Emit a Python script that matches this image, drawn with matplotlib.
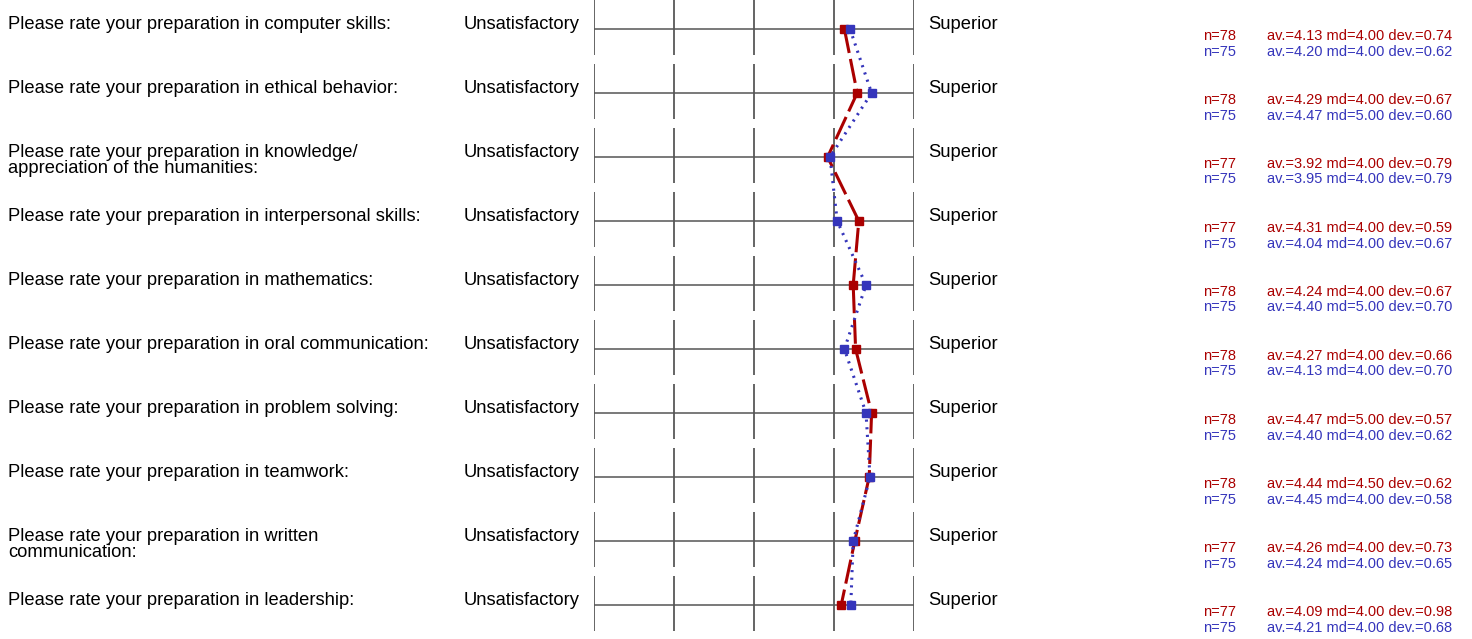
import numpy as np
import matplotlib.pyplot as plt

plt.rcParams['font.family'] = ['Liberation Sans', 'DejaVu Sans']

questions = [
    "Please rate your preparation in computer skills:",
    "Please rate your preparation in ethical behavior:",
    "Please rate your preparation in knowledge/\nappreciation of the humanities:",
    "Please rate your preparation in interpersonal skills:",
    "Please rate your preparation in mathematics:",
    "Please rate your preparation in oral communication:",
    "Please rate your preparation in problem solving:",
    "Please rate your preparation in teamwork:",
    "Please rate your preparation in written\ncommunication:",
    "Please rate your preparation in leadership:",
]
left_label = "Unsatisfactory"
right_label = "Superior"

# series 1 (red)
n_red = [78, 78, 77, 77, 78, 78, 78, 78, 77, 77]
av_red = [4.13, 4.29, 3.92, 4.31, 4.24, 4.27, 4.47, 4.44, 4.26, 4.09]
md_red = [4.00, 4.00, 4.00, 4.00, 4.00, 4.00, 5.00, 4.50, 4.00, 4.00]
dev_red = [0.74, 0.67, 0.79, 0.59, 0.67, 0.66, 0.57, 0.62, 0.73, 0.98]

# series 2 (blue)
n_blue = [75, 75, 75, 75, 75, 75, 75, 75, 75, 75]
av_blue = [4.20, 4.47, 3.95, 4.04, 4.40, 4.13, 4.40, 4.45, 4.24, 4.21]
md_blue = [4.00, 5.00, 4.00, 4.00, 5.00, 4.00, 4.00, 4.00, 4.00, 4.00]
dev_blue = [0.62, 0.60, 0.79, 0.67, 0.70, 0.70, 0.62, 0.58, 0.65, 0.68]

RED = '#aa0000'
BLUE = '#3535bb'
W, H = 1472, 639

fig = plt.figure(figsize=(W / 100, H / 100), dpi=100)
# scale axes: x 1..5 -> px 594..914, row i centred at px 29 + 64 i
ax = fig.add_axes([594 / W, 0, 320 / W, 1])
ax.set_xlim(1, 5)
ax.set_ylim((H - 29) / 64, -29 / 64)
ax.axis('off')

rows = np.arange(len(questions))
for i in rows:
    ax.vlines([1, 2, 3, 4, 5], i - 0.45, i + 0.41, color='#4a4a4a', lw=1.2)
    ax.hlines(i, 1, 5, color='#555555', lw=1.1)

ax.plot(av_red, rows, color=RED, lw=2.2, ls=(0, (8, 2)), marker='s', ms=6,
        mec=RED, mfc=RED, clip_on=False, zorder=3)
ax.plot(av_blue, rows, color=BLUE, lw=2.2, ls=(0, (0.7, 1.8)), marker='s', ms=6,
        mec=BLUE, mfc=BLUE, clip_on=False, zorder=4)

fs = 13.2
sfs = 10.5
for i in rows:
    ybase = 29 + 64 * i
    # one text per line so the first line sits on the row baseline
    for k, line in enumerate(questions[i].split("\n")):
        fig.text(8 / W, 1 - (ybase + 16 * k) / H, line, fontsize=fs,
                 va='baseline', ha='left')
    fig.text(580 / W, 1 - ybase / H, left_label, fontsize=fs, va='baseline', ha='right')
    fig.text(928 / W, 1 - ybase / H, right_label, fontsize=fs, va='baseline', ha='left')

    yr = 1 - (36 + 64 * i) / H
    yb = 1 - (51.5 + 64 * i) / H
    fig.text(1203 / W, yr, f"n={n_red[i]}", fontsize=sfs, color=RED, va='center')
    fig.text(1267 / W, yr, f"av.={av_red[i]:.2f} md={md_red[i]:.2f} dev.={dev_red[i]:.2f}",
             fontsize=sfs, color=RED, va='center')
    fig.text(1203 / W, yb, f"n={n_blue[i]}", fontsize=sfs, color=BLUE, va='center')
    fig.text(1267 / W, yb, f"av.={av_blue[i]:.2f} md={md_blue[i]:.2f} dev.={dev_blue[i]:.2f}",
             fontsize=sfs, color=BLUE, va='center')

fig.savefig("out.png", dpi=100)
